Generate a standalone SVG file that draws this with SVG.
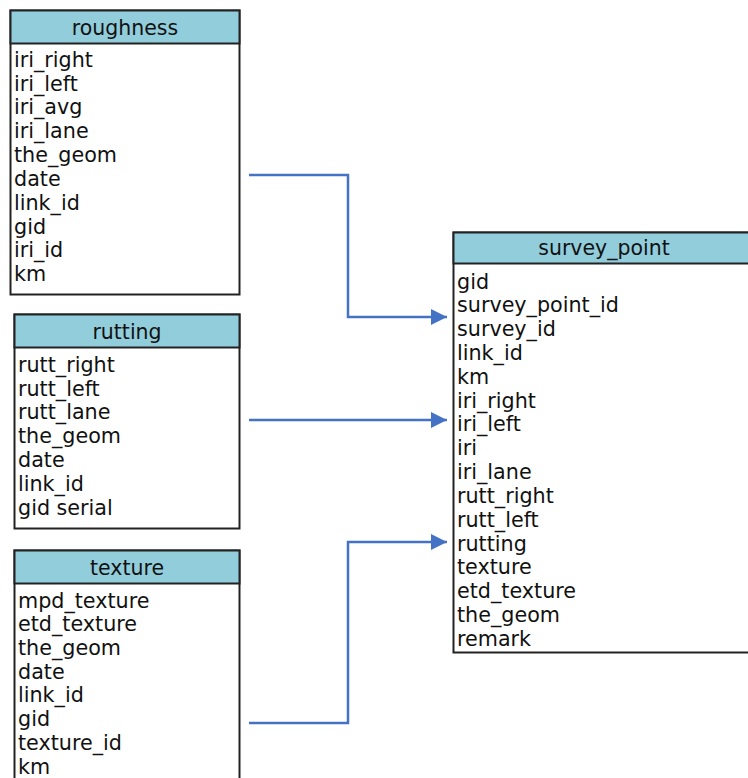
<svg xmlns="http://www.w3.org/2000/svg" width="748" height="778" viewBox="0 0 748 778">
  <style>
    .box { fill: #ffffff; stroke: #222222; stroke-width: 2; }
    .head { fill: #92CDDC; stroke: #222222; stroke-width: 2; }
    .title { font-family: "DejaVu Sans", Verdana, sans-serif; font-size: 20.5px; fill: #111111; text-anchor: middle; }
    .field { font-family: "DejaVu Sans", Verdana, sans-serif; font-size: 20.7px; fill: #111111; }
    .link { fill: none; stroke: #4472C4; stroke-width: 2.5; }
  </style>
  <defs>
    <marker id="arrow" viewBox="0 0 10 10" refX="10" refY="5" markerWidth="6.4" markerHeight="6.4" markerUnits="strokeWidth" orient="auto">
      <path d="M0,0 L10,5 L0,10 z" fill="#4472C4"/>
    </marker>
  </defs>

  <rect width="748" height="778" fill="#ffffff"/>

  <!-- roughness table -->
  <g id="roughness">
    <rect class="box" x="10.5" y="10.5" width="229" height="284"/>
    <rect class="head" x="10.5" y="10.5" width="229" height="33"/>
    <text class="title" x="125" y="35">roughness</text>
    <text class="field" x="14" y="67">iri_right</text>
    <text class="field" x="14" y="91">iri_left</text>
    <text class="field" x="14" y="114">iri_avg</text>
    <text class="field" x="14" y="138">iri_lane</text>
    <text class="field" x="14" y="162">the_geom</text>
    <text class="field" x="14" y="186">date</text>
    <text class="field" x="14" y="210">link_id</text>
    <text class="field" x="14" y="234">gid</text>
    <text class="field" x="14" y="257">iri_id</text>
    <text class="field" x="14" y="281">km</text>
  </g>

  <!-- rutting table -->
  <g id="rutting">
    <rect class="box" x="14.5" y="314.5" width="225" height="214"/>
    <rect class="head" x="14.5" y="314.5" width="225" height="33"/>
    <text class="title" x="127" y="339">rutting</text>
    <text class="field" x="18" y="372">rutt_right</text>
    <text class="field" x="18" y="396">rutt_left</text>
    <text class="field" x="18" y="419">rutt_lane</text>
    <text class="field" x="18" y="443">the_geom</text>
    <text class="field" x="18" y="467">date</text>
    <text class="field" x="18" y="491">link_id</text>
    <text class="field" x="18" y="515">gid serial</text>
  </g>

  <!-- texture table -->
  <g id="texture">
    <rect class="box" x="14.5" y="550.5" width="225" height="240"/>
    <rect class="head" x="14.5" y="550.5" width="225" height="33"/>
    <text class="title" x="127" y="575">texture</text>
    <text class="field" x="18" y="608">mpd_texture</text>
    <text class="field" x="18" y="631">etd_texture</text>
    <text class="field" x="18" y="655">the_geom</text>
    <text class="field" x="18" y="679">date</text>
    <text class="field" x="18" y="702">link_id</text>
    <text class="field" x="18" y="726">gid</text>
    <text class="field" x="18" y="750">texture_id</text>
    <text class="field" x="18" y="774">km</text>
  </g>

  <!-- survey_point table -->
  <g id="survey_point">
    <rect class="box" x="453.5" y="232.5" width="310" height="420"/>
    <rect class="head" x="453.5" y="232.5" width="310" height="31"/>
    <text class="title" x="604" y="255">survey_point</text>
    <text class="field" x="457" y="289">gid</text>
    <text class="field" x="457" y="312">survey_point_id</text>
    <text class="field" x="457" y="336">survey_id</text>
    <text class="field" x="457" y="360">link_id</text>
    <text class="field" x="457" y="384">km</text>
    <text class="field" x="457" y="408">iri_right</text>
    <text class="field" x="457" y="431">iri_left</text>
    <text class="field" x="457" y="455">iri</text>
    <text class="field" x="457" y="479">iri_lane</text>
    <text class="field" x="457" y="503">rutt_right</text>
    <text class="field" x="457" y="527">rutt_left</text>
    <text class="field" x="457" y="551">rutting</text>
    <text class="field" x="457" y="574">texture</text>
    <text class="field" x="457" y="598">etd_texture</text>
    <text class="field" x="457" y="622">the_geom</text>
    <text class="field" x="457" y="646">remark</text>
  </g>

  <!-- connectors -->
  <g id="connectors">
    <path class="link" d="M249,175 H348 V317 H447" marker-end="url(#arrow)"/>
    <path class="link" d="M249,420 H447" marker-end="url(#arrow)"/>
    <path class="link" d="M249,723 H348 V542 H447" marker-end="url(#arrow)"/>
  </g>
</svg>
